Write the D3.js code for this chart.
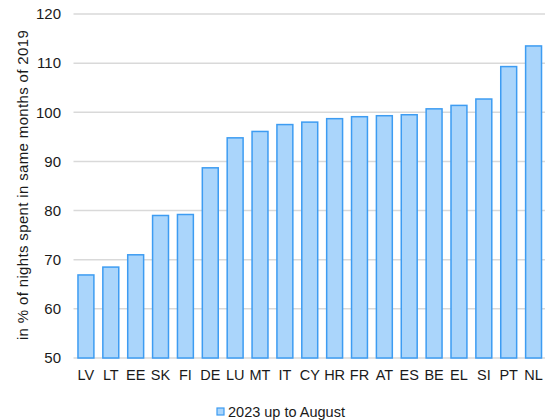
<!DOCTYPE html>
<html lang="en">
<head>
<meta charset="utf-8">
<script src="https://d3js.org/d3.v7.min.js"></script>
<style>
  body { margin: 0; background: #fff; }
  text { font-family: "Liberation Sans", Arial, sans-serif; fill: #1a1a1a; }
</style>
</head>
<body>
<script>
var countries = ["LV","LT","EE","SK","FI","DE","LU","MT","IT","CY","HR","FR","AT","ES","BE","EL","SI","PT","NL"];
var values = [66.9, 68.5, 71.0, 79.0, 79.2, 88.7, 94.8, 96.1, 97.5, 98.0, 98.7, 99.1, 99.3, 99.5, 100.7, 101.4, 102.7, 109.3, 113.5];
var yTicks = [50, 60, 70, 80, 90, 100, 110, 120];
var seriesName = "2023 up to August";
var yTitle = "in % of nights spent in same months of 2019";

var width = 545, height = 420;
var margin = {top: 14, right: -1, bottom: 62, left: 73.5};

var svg = d3.select("body").append("svg")
    .attr("width", width)
    .attr("height", height);

var x = d3.scaleBand()
    .domain(countries)
    .range([margin.left, width - margin.right])
    .paddingInner(0.36)
    .paddingOuter(0.18);

var y = d3.scaleLinear()
    .domain([50, 120])
    .range([height - margin.bottom, margin.top]);

// gridlines
svg.append("g")
    .selectAll("line")
    .data(yTicks)
    .enter().append("line")
    .attr("x1", margin.left)
    .attr("x2", width)
    .attr("y1", function(d) { return y(d); })
    .attr("y2", function(d) { return y(d); })
    .attr("stroke", "#d9d9d9")
    .attr("stroke-width", 1.5);

// y axis labels
var yAxis = svg.append("g")
    .attr("transform", "translate(" + (margin.left - 12.5) + ",0)")
    .call(d3.axisLeft(y).tickValues(yTicks).tickSize(0).tickPadding(0));
yAxis.select(".domain").remove();
yAxis.selectAll("text").attr("font-size", 15).attr("fill", "#1a1a1a");

// bars
svg.append("g")
    .selectAll("rect")
    .data(values)
    .enter().append("rect")
    .attr("x", function(d, i) { return x(countries[i]); })
    .attr("width", x.bandwidth())
    .attr("y", function(d) { return y(d); })
    .attr("height", function(d) { return y(50) - y(d); })
    .attr("fill", "#aad5fb")
    .attr("stroke", "#3d9cf2")
    .attr("stroke-width", 1.5);

// x axis labels
var xAxis = svg.append("g")
    .attr("transform", "translate(0," + (height - margin.bottom + 12) + ")")
    .call(d3.axisBottom(x).tickSize(0).tickPadding(0));
xAxis.select(".domain").remove();
xAxis.selectAll("text").attr("font-size", 14.5).attr("fill", "#1a1a1a");

// y title
svg.append("text")
    .attr("transform", "translate(28," + ((y(50) + y(120)) / 2 - 1) + ") rotate(-90)")
    .attr("text-anchor", "middle")
    .attr("font-size", 15)
    .attr("letter-spacing", 0.35)
    .text(yTitle);

// legend
var legend = svg.append("g").attr("transform", "translate(217,408)");
legend.append("rect")
    .attr("width", 7).attr("height", 7)
    .attr("fill", "#aad5fb")
    .attr("stroke", "#3d9cf2")
    .attr("stroke-width", 1.2);
legend.append("text")
    .attr("x", 11)
    .attr("y", 8.8)
    .attr("font-size", 14.5)
    .text(seriesName);
</script>
</body>
</html>
